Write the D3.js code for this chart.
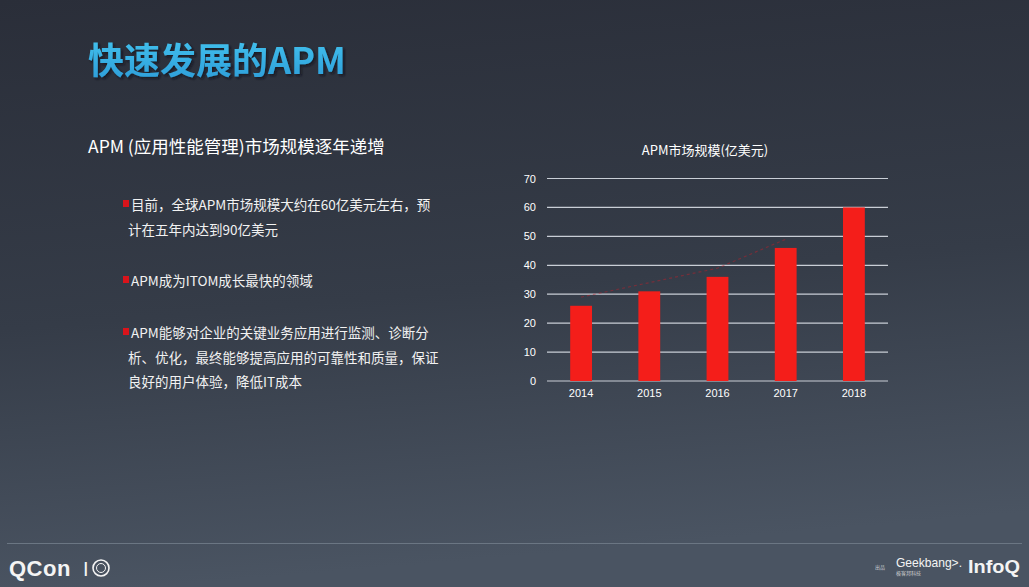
<!DOCTYPE html>
<html>
<head>
<meta charset="utf-8">
<script src="https://cdn.jsdelivr.net/npm/d3@7"></script>
<style>
  body { margin: 0; background: #333944; overflow: hidden; }
  svg { display: block; }
</style>
</head>
<body>
<div id="chart-area"></div>
<script>
// Chart data
const years = ["2014", "2015", "2016", "2017", "2018"];
const marketSize = [26, 31, 36, 46, 60];
const yTicks = [0, 10, 20, 30, 40, 50, 60, 70];

const bullets = [
  ["目前，全球APM市场规模大约在60亿美元左右，预", "计在五年内达到90亿美元"],
  ["APM成为ITOM成长最快的领域"],
  ["APM能够对企业的关键业务应用进行监测、诊断分", "析、优化，最终能够提高应用的可靠性和质量，保证", "良好的用户体验，降低IT成本"]
];

const W = 1029, H = 587;
const font = "'Noto Sans CJK SC', 'Liberation Sans', sans-serif";

const svg = d3.select("#chart-area").append("svg")
  .attr("width", W)
  .attr("height", H);

// Background gradient
const defs = svg.append("defs");
const bg = defs.append("linearGradient")
  .attr("id", "bg")
  .attr("x1", 0).attr("y1", 0).attr("x2", 0.15).attr("y2", 1);
bg.append("stop").attr("offset", "0%").attr("stop-color", "#2a2e39");
bg.append("stop").attr("offset", "55%").attr("stop-color", "#353c48");
bg.append("stop").attr("offset", "100%").attr("stop-color", "#4a5462");

const titleGrad = defs.append("linearGradient")
  .attr("id", "titleGrad")
  .attr("x1", 0).attr("y1", 0).attr("x2", 0).attr("y2", 1);
titleGrad.append("stop").attr("offset", "0%").attr("stop-color", "#45c6f0");
titleGrad.append("stop").attr("offset", "100%").attr("stop-color", "#2b9bd8");

const shadow = defs.append("filter")
  .attr("id", "shadow")
  .attr("x", "-5%").attr("y", "-20%")
  .attr("width", "115%").attr("height", "150%");
shadow.append("feDropShadow")
  .attr("dx", 2).attr("dy", 2)
  .attr("stdDeviation", 1.2)
  .attr("flood-color", "#0c121a")
  .attr("flood-opacity", 0.7);

svg.append("rect")
  .attr("width", W)
  .attr("height", H)
  .attr("fill", "url(#bg)");

// Page title
svg.append("text")
  .attr("x", 88)
  .attr("y", 74)
  .style("font-family", font)
  .style("font-size", "36px")
  .style("font-weight", "bold")
  .style("fill", "url(#titleGrad)")
  .attr("filter", "url(#shadow)")
  .text("快速发展的APM");

// Subtitle
svg.append("text")
  .attr("x", 88)
  .attr("y", 153)
  .style("font-family", font)
  .style("font-size", "17.5px")
  .style("fill", "#ffffff")
  .text("APM (应用性能管理)市场规模逐年递增");

// Bullet list
const lineStarts = [210, 286, 338];
bullets.forEach((lines, i) => {
  svg.append("rect")
    .attr("x", 123)
    .attr("y", lineStarts[i] - 10)
    .attr("width", 6)
    .attr("height", 7)
    .attr("fill", "#d9141b");
  lines.forEach((t, j) => {
    svg.append("text")
      .attr("x", j === 0 ? 131 : 128)
      .attr("y", lineStarts[i] + j * 24.5)
      .style("font-family", font)
      .style("font-size", "13.5px")
      .style("fill", "#f2f2f2")
      .text(t);
  });
});

// Bar chart
const x = d3.scaleBand()
  .domain(years)
  .range([547, 888])
  .paddingInner(0.68)
  .paddingOuter(0.34);

const y = d3.scaleLinear()
  .domain([0, 70])
  .range([381, 178.5]);

const chart = svg.append("g");

chart.append("text")
  .attr("x", 705)
  .attr("y", 155)
  .attr("text-anchor", "middle")
  .style("font-family", font)
  .style("font-size", "13px")
  .style("fill", "#ffffff")
  .text("APM市场规模(亿美元)");

// Gridlines
chart.selectAll(".grid")
  .data(yTicks)
  .join("line")
  .attr("class", "grid")
  .attr("x1", 547)
  .attr("x2", 888)
  .attr("y1", d => y(d))
  .attr("y2", d => y(d))
  .attr("stroke", "#c9ced6")
  .attr("stroke-width", 1.2);

// Y axis labels
const yAxis = d3.axisLeft(y).tickValues(yTicks).tickSize(0).tickPadding(10);
const yg = chart.append("g")
  .attr("transform", "translate(546,0)")
  .call(yAxis);
yg.select(".domain").remove();
yg.selectAll("text")
  .style("font-family", "'Liberation Sans', sans-serif")
  .style("font-size", "11px")
  .style("fill", "#ffffff");

// X axis labels
const xAxis = d3.axisBottom(x).tickSize(0).tickPadding(8);
const xg = chart.append("g")
  .attr("transform", "translate(0,381)")
  .call(xAxis);
xg.select(".domain").remove();
xg.selectAll("text")
  .style("font-family", "'Liberation Sans', sans-serif")
  .style("font-size", "11px")
  .style("fill", "#ffffff");

// Faint trend line
const trend = d3.line()
  .x((d, i) => x(years[i]) + x.bandwidth() / 2)
  .y(d => y(d + 3));
chart.append("path")
  .datum(marketSize.slice(0, 4))
  .attr("d", trend)
  .attr("fill", "none")
  .attr("stroke", "#c0202a")
  .attr("stroke-width", 1.2)
  .attr("stroke-dasharray", "3,3")
  .attr("opacity", 0.45);

// Bars
chart.selectAll(".bar")
  .data(marketSize)
  .join("rect")
  .attr("class", "bar")
  .attr("x", (d, i) => x(years[i]))
  .attr("y", d => y(d))
  .attr("width", x.bandwidth())
  .attr("height", d => y(0) - y(d))
  .attr("fill", "#f41e1a");

// Footer
svg.append("line")
  .attr("x1", 7).attr("x2", 1022)
  .attr("y1", 543.5).attr("y2", 543.5)
  .attr("stroke", "#6b7683")
  .attr("stroke-width", 1);

svg.append("text")
  .attr("x", 9)
  .attr("y", 576)
  .style("font-family", "'Liberation Sans', sans-serif")
  .style("font-size", "22px")
  .style("font-weight", "bold")
  .style("letter-spacing", "0.5px")
  .style("fill", "#f4f4f4")
  .text("QCon");

svg.append("text")
  .attr("x", 83)
  .attr("y", 576)
  .style("font-family", "'Liberation Sans', sans-serif")
  .style("font-size", "20px")
  .style("fill", "#f4f4f4")
  .text("I");
svg.append("circle")
  .attr("cx", 101).attr("cy", 568).attr("r", 8)
  .attr("fill", "none").attr("stroke", "#f4f4f4").attr("stroke-width", 1.6);
svg.append("circle")
  .attr("cx", 101).attr("cy", 568).attr("r", 4.5)
  .attr("fill", "none").attr("stroke", "#f4f4f4").attr("stroke-width", 1);

svg.append("text")
  .attr("x", 875)
  .attr("y", 569)
  .style("font-family", font)
  .style("font-size", "5px")
  .style("fill", "#c8ccd2")
  .text("出品");

svg.append("text")
  .attr("x", 896)
  .attr("y", 567)
  .attr("textLength", 66)
  .attr("lengthAdjust", "spacingAndGlyphs")
  .style("font-family", "'Liberation Sans', sans-serif")
  .style("font-size", "13px")
  .style("fill", "#f4f4f4")
  .text("Geekbang>.");
svg.append("text")
  .attr("x", 896)
  .attr("y", 575)
  .style("font-family", font)
  .style("font-size", "5px")
  .style("fill", "#d0d0d0")
  .text("极客邦科技");

svg.append("text")
  .attr("x", 968)
  .attr("y", 573)
  .attr("textLength", 52)
  .attr("lengthAdjust", "spacingAndGlyphs")
  .style("font-family", "'Liberation Sans', sans-serif")
  .style("font-size", "19px")
  .style("font-weight", "bold")
  .style("fill", "#f4f4f4")
  .text("InfoQ");
</script>
</body>
</html>
